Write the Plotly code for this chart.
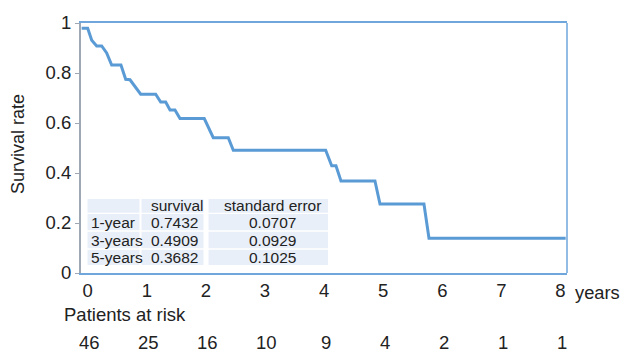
import plotly.graph_objects as go

# ---- data ----
years = [-0.102, 0.0, 0.068, 0.152, 0.237, 0.321, 0.406, 0.563, 0.643, 0.716, 0.897,
         1.151, 1.235, 1.320, 1.393, 1.477, 1.562, 1.973, 2.125, 2.379, 2.464,
         4.027, 4.129, 4.201, 4.286, 4.861, 4.946, 5.690, 5.775, 8.088]
survival_curve = [0.979, 0.979, 0.931, 0.908, 0.908, 0.880, 0.832, 0.832, 0.775, 0.773, 0.715,
                  0.715, 0.684, 0.684, 0.652, 0.652, 0.618, 0.618, 0.541, 0.541, 0.491,
                  0.491, 0.429, 0.429, 0.368, 0.368, 0.276, 0.276, 0.139, 0.139]

x_ticks = [0, 1, 2, 3, 4, 5, 6, 7, 8]
y_ticks = [0, 0.2, 0.4, 0.6, 0.8, 1]
y_tick_text = ["0", "0.2", "0.4", "0.6", "0.8", "1"]
patients_at_risk = [46, 25, 16, 10, 9, 4, 2, 1, 1]

table_header = ["", "survival", "standard error"]
table_rows = ["1-year", "3-years", "5-years"]
table_survival = ["0.7432", "0.4909", "0.3682"]
table_se = ["0.0707", "0.0929", "0.1025"]

# ---- layout geometry (pixels) ----
W, H = 621, 353
ML, MR, MT, MB = 81, 54, 21, 80
PW, PH = W - ML - MR, H - MT - MB
PX_PER_YEAR = 59.1
X_LEFT = -0.113

def px(p):
    return (p - ML) / PW

def py(p):
    return (H - MB - p) / PH

FONT = "Liberation Sans, Arial, sans-serif"
TXT = "#222222"
BLUE = "#5b9bd5"

fig = go.Figure()
fig.add_trace(go.Scatter(x=years, y=survival_curve, mode="lines",
                         line=dict(color=BLUE, width=3), hoverinfo="skip",
                         showlegend=False))

shapes = [dict(type="line", xref="paper", yref="paper", x0=1, x1=1, y0=0, y1=1,
               line=dict(color="#6fa6dc", width=1.5))]
annotations = []

# table
col_bounds = [(87.5, 139.5), (141.5, 203.5), (208.5, 328.0)]
row_bounds = [(198.3, 212.3), (213.5, 230.0), (231.5, 248.0), (249.5, 265.0)]
for (r0, r1) in row_bounds:
    for (c0, c1) in col_bounds:
        shapes.append(dict(type="rect", xref="paper", yref="paper", layer="below",
                           x0=px(c0), x1=px(c1), y0=py(r1), y1=py(r0),
                           fillcolor="#e9eff8", line=dict(width=0)))

rows_text = [table_header] + [[a, b, c] for a, b, c in zip(table_rows, table_survival, table_se)]
for ri, row in enumerate(rows_text):
    r0, r1 = row_bounds[ri]
    yc = py((r0 + r1) / 2)
    for ci, txt in enumerate(row):
        if not txt:
            continue
        if ci == 0:
            annotations.append(dict(x=px(89), y=yc, xanchor="left", yanchor="middle", text=txt))
        elif ci == 1:
            annotations.append(dict(x=px(148.5), y=yc, xanchor="left", yanchor="middle", text=txt))
        else:
            annotations.append(dict(x=px(272), y=yc, xanchor="center", yanchor="middle", text=txt))
for a in annotations:
    a.update(xref="paper", yref="paper", showarrow=False,
             font=dict(family=FONT, size=15.5, color=TXT))

# y axis title
annotations.append(dict(xref="paper", yref="paper", x=px(18), y=py(143), text="Survival rate",
                        textangle=-90, showarrow=False, xanchor="center", yanchor="middle",
                        font=dict(family=FONT, size=18, color=TXT)))
# "years" unit label
annotations.append(dict(xref="paper", yref="paper", x=px(573), y=py(292.5), text="years",
                        showarrow=False, xanchor="left", yanchor="middle",
                        font=dict(family=FONT, size=18.3, color=TXT)))
# patients at risk
annotations.append(dict(xref="paper", yref="paper", x=px(62), y=py(315), text="Patients at risk",
                        showarrow=False, xanchor="left", yanchor="middle",
                        font=dict(family=FONT, size=18.5, color=TXT)))
for xv, n in zip(x_ticks, patients_at_risk):
    annotations.append(dict(xref="x", yref="paper", x=xv, y=py(343), text=str(n), xshift=2,
                            showarrow=False, xanchor="center", yanchor="middle",
                            font=dict(family=FONT, size=18.5, color=TXT)))

fig.update_layout(
    width=W, height=H, margin=dict(l=ML, r=MR, t=MT, b=MB, pad=0),
    paper_bgcolor="white", plot_bgcolor="white",
    font=dict(family=FONT, size=18.5, color=TXT),
    shapes=shapes, annotations=annotations, showlegend=False,
    xaxis=dict(range=[X_LEFT, X_LEFT + PW / PX_PER_YEAR], tickvals=x_ticks,
               ticktext=[str(v) for v in x_ticks], showgrid=False, zeroline=False,
               showline=True, linecolor="#6fa6dc", linewidth=1.5, mirror=True,
               ticks="", tickfont=dict(size=18.5, color=TXT), fixedrange=True),
    yaxis=dict(range=[0, 1], tickvals=y_ticks, ticktext=y_tick_text, showgrid=False,
               zeroline=False, showline=True, linecolor="#9ea7b4", linewidth=2,
               ticks="outside", ticklen=4, tickcolor="#9ea7b4", tickwidth=1,
               tickfont=dict(size=18.5, color=TXT), fixedrange=True),
)

fig.write_html("out.html", config={"displayModeBar": False},
               post_script="document.body.style.margin='0px';document.body.style.overflow='hidden';")
